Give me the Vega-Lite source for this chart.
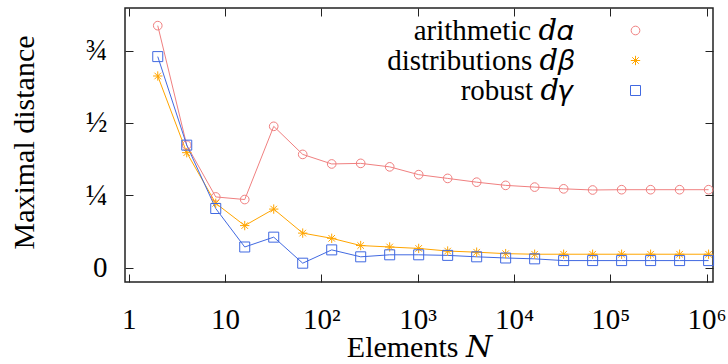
{
  "$schema": "https://vega.github.io/schema/vega-lite/v6.json",
  "width": 588,
  "height": 274,
  "autosize": {"type": "none"},
  "padding": {"left": 125, "top": 8, "right": 15, "bottom": 82},
  "background": "white",
  "config": {
    "font": "Liberation Serif, DejaVu Serif",
    "view": {"stroke": "#222222", "strokeWidth": 1.5},
    "axis": {
      "domain": false,
      "grid": false,
      "tickColor": "#222222",
      "tickWidth": 1,
      "labelFont": "Liberation Serif, DejaVu Serif",
      "labelFontSize": 29,
      "labelColor": "black",
      "titleFont": "Liberation Serif, DejaVu Serif",
      "titleFontSize": 30,
      "titleFontWeight": "normal",
      "titleColor": "black"
    },
    "legend": {
      "title": null,
      "labelFont": "Liberation Serif, DejaVu Serif",
      "labelFontSize": 29,
      "labelColor": "black",
      "labelAlign": "right",
      "labelOffset": -76,
      "labelLimit": 400,
      "rowPadding": -2.5,
      "symbolSize": 64,
      "symbolStrokeWidth": 1
    }
  },
  "data": {
    "values": [
      {"N": 2, "series": "arithmetic", "d": 0.836},
      {"N": 4, "series": "arithmetic", "d": 0.423},
      {"N": 8, "series": "arithmetic", "d": 0.244},
      {"N": 16, "series": "arithmetic", "d": 0.235},
      {"N": 32, "series": "arithmetic", "d": 0.488},
      {"N": 64, "series": "arithmetic", "d": 0.391},
      {"N": 128, "series": "arithmetic", "d": 0.358},
      {"N": 256, "series": "arithmetic", "d": 0.36},
      {"N": 512, "series": "arithmetic", "d": 0.348},
      {"N": 1024, "series": "arithmetic", "d": 0.321},
      {"N": 2048, "series": "arithmetic", "d": 0.308},
      {"N": 4096, "series": "arithmetic", "d": 0.295},
      {"N": 8192, "series": "arithmetic", "d": 0.284},
      {"N": 16384, "series": "arithmetic", "d": 0.278},
      {"N": 32768, "series": "arithmetic", "d": 0.272},
      {"N": 65536, "series": "arithmetic", "d": 0.268},
      {"N": 131072, "series": "arithmetic", "d": 0.269},
      {"N": 262144, "series": "arithmetic", "d": 0.269},
      {"N": 524288, "series": "arithmetic", "d": 0.269},
      {"N": 1048576, "series": "arithmetic", "d": 0.269},
      {"N": 2, "series": "distributions", "d": 0.662},
      {"N": 4, "series": "distributions", "d": 0.397},
      {"N": 8, "series": "distributions", "d": 0.222},
      {"N": 16, "series": "distributions", "d": 0.145},
      {"N": 32, "series": "distributions", "d": 0.202},
      {"N": 64, "series": "distributions", "d": 0.119},
      {"N": 128, "series": "distributions", "d": 0.101},
      {"N": 256, "series": "distributions", "d": 0.076},
      {"N": 512, "series": "distributions", "d": 0.071},
      {"N": 1024, "series": "distributions", "d": 0.066},
      {"N": 2048, "series": "distributions", "d": 0.057},
      {"N": 4096, "series": "distributions", "d": 0.053},
      {"N": 8192, "series": "distributions", "d": 0.048},
      {"N": 16384, "series": "distributions", "d": 0.046},
      {"N": 32768, "series": "distributions", "d": 0.046},
      {"N": 65536, "series": "distributions", "d": 0.046},
      {"N": 131072, "series": "distributions", "d": 0.046},
      {"N": 262144, "series": "distributions", "d": 0.046},
      {"N": 524288, "series": "distributions", "d": 0.046},
      {"N": 1048576, "series": "distributions", "d": 0.046},
      {"N": 2, "series": "robust", "d": 0.729},
      {"N": 4, "series": "robust", "d": 0.423},
      {"N": 8, "series": "robust", "d": 0.204},
      {"N": 16, "series": "robust", "d": 0.071},
      {"N": 32, "series": "robust", "d": 0.105},
      {"N": 64, "series": "robust", "d": 0.015},
      {"N": 128, "series": "robust", "d": 0.061},
      {"N": 256, "series": "robust", "d": 0.037},
      {"N": 512, "series": "robust", "d": 0.044},
      {"N": 1024, "series": "robust", "d": 0.044},
      {"N": 2048, "series": "robust", "d": 0.042},
      {"N": 4096, "series": "robust", "d": 0.037},
      {"N": 8192, "series": "robust", "d": 0.033},
      {"N": 16384, "series": "robust", "d": 0.03},
      {"N": 32768, "series": "robust", "d": 0.024},
      {"N": 65536, "series": "robust", "d": 0.024},
      {"N": 131072, "series": "robust", "d": 0.024},
      {"N": 262144, "series": "robust", "d": 0.024},
      {"N": 524288, "series": "robust", "d": 0.024},
      {"N": 1048576, "series": "robust", "d": 0.024}
    ]
  },
  "encoding": {
    "color": {
      "field": "series", "type": "nominal",
      "scale": {"domain": ["arithmetic", "distributions", "robust"], "range": ["#F08080", "#FFA500", "#4169E1"]},
      "legend": {
        "orient": "none",
        "legendX": 496,
        "legendY": 8,
        "labelExpr": "datum.value == 'arithmetic' ? 'arithmetic 𝑑𝛼' : datum.value == 'distributions' ? 'distributions 𝑑𝛽' : 'robust 𝑑𝛾'"
      }
    }
  },
  "layer": [
    {
      "mark": {"type": "line", "strokeWidth": 1},
      "encoding": {
        "x": {
          "field": "N", "type": "quantitative",
          "scale": {"type": "log", "domain": [0.914, 1165000], "nice": false},
          "axis": {
            "orient": "bottom",
            "values": [1, 10, 100, 1000, 10000, 100000, 1000000],
            "labelExpr": "datum.value == 1 ? '1' : datum.value == 10 ? '10' : '10' + ['', '', '²', '³', '⁴', '⁵', '⁶'][round(log(datum.value) / LN10)]",
            "tickSize": -8,
            "labelPadding": 31,
            "title": "Elements 𝑁",
            "titleY": 74,
            "titleBaseline": "alphabetic"
          }
        },
        "y": {
          "field": "d", "type": "quantitative",
          "scale": {"domain": [-0.05, 0.897], "nice": false, "zero": false},
          "axis": {
            "orient": "left",
            "values": [0, 0.25, 0.5, 0.75],
            "labelExpr": "datum.value == 0 ? '0' : datum.value == 0.25 ? '¼' : datum.value == 0.5 ? '½' : '¾'",
            "tickSize": -8,
            "labelPadding": 26,
            "title": "Maximal distance",
            "titleX": -92,
            "titleY": 134,
            "titleAngle": -90,
            "titleBaseline": "alphabetic"
          }
        }
      }
    },
    {
      "mark": {"type": "point", "filled": false, "strokeWidth": 1, "opacity": 1},
      "encoding": {
        "x": {
          "field": "N", "type": "quantitative",
          "axis": {
            "orient": "top",
            "values": [1, 10, 100, 1000, 10000, 100000, 1000000],
            "labels": false,
            "tickSize": -8,
            "title": null
          }
        },
        "y": {
          "field": "d", "type": "quantitative",
          "axis": {
            "orient": "right",
            "values": [0, 0.25, 0.5, 0.75],
            "labels": false,
            "tickSize": -8,
            "title": null
          }
        },
        "size": {
          "field": "series", "type": "nominal",
          "scale": {"domain": ["arithmetic", "distributions", "robust"], "range": [75, 100, 64]},
          "legend": null
        },
        "shape": {
          "field": "series", "type": "nominal",
          "scale": {"domain": ["arithmetic", "distributions", "robust"], "range": ["circle", "M-1,0L1,0M0,-1L0,1M-0.7,-0.7L0.7,0.7M-0.7,0.7L0.7,-0.7", "square"]},
          "legend": {
            "orient": "none",
            "legendX": 496,
            "legendY": 8,
            "labelExpr": "datum.value == 'arithmetic' ? 'arithmetic 𝑑𝛼' : datum.value == 'distributions' ? 'distributions 𝑑𝛽' : 'robust 𝑑𝛾'"
          }
        }
      }
    }
  ],
  "resolve": {"axis": {"x": "independent", "y": "independent"}}
}
